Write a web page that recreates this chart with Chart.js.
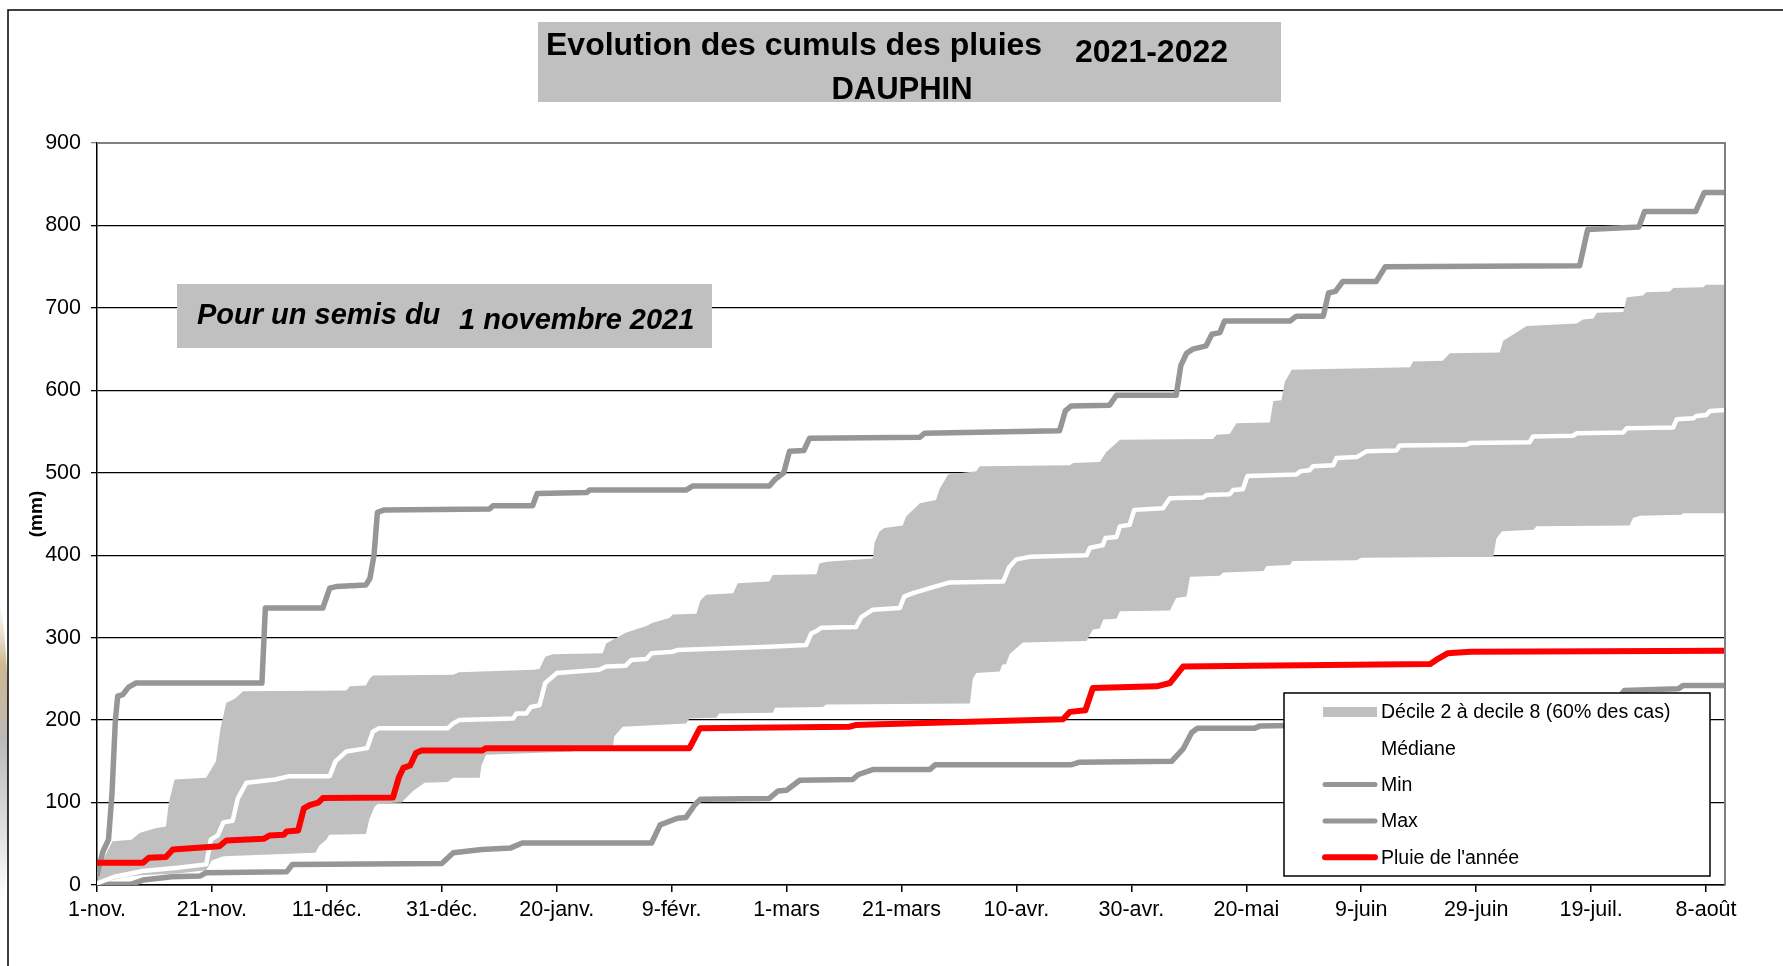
<!DOCTYPE html>
<html>
<head>
<meta charset="utf-8">
<script src="https://cdn.jsdelivr.net/npm/chart.js@4.4.1/dist/chart.umd.min.js"></script>
<style>
  html, body { margin: 0; padding: 0; background: #fff; }
  #wrap { width: 1783px; height: 966px; }
</style>
</head>
<body>
<div id="wrap"><canvas id="pluie" width="1783" height="966"></canvas></div>
<script>
// jours depuis le 1er novembre -> cumul (mm)
const xLabels = ['1-nov.', '21-nov.', '11-déc.', '31-déc.', '20-janv.', '9-févr.', '1-mars', '21-mars',
  '10-avr.', '30-avr.', '20-mai', '9-juin', '29-juin', '19-juil.', '8-août'];

const maxPts = [[0,12],[1,40],[2,55],[2.6,110],[3.2,200],[3.6,229],[4.5,231],[5.5,240],[6.8,245],[28.7,245],
  [29.3,336],[39.3,336],[40.5,360],[41.6,362],[46.8,364],[47.5,372],[48.2,400],[48.8,452],[50,455],[68.3,456],
  [68.9,460],[75.8,460],[76.6,475],[85.2,476],[85.7,479],[102.5,479],[103.7,484],[117,484],[118,492],[119.5,500],
  [120.5,526],[123,527],[124,542],[143.2,543],[144,548],[167.5,551],[168.5,575],[169.5,581],[176.2,582],[177.4,594],
  [187.8,594],[188.6,630],[189.6,645],[190.7,650],[193,654],[194,668],[195.4,670],[196.2,684],[207.6,684],[208.7,690],
  [213.4,690],[214.3,718],[215.5,720],[216.8,732],[222.6,732],[224.2,750],[258,751],[259.4,795],[268.3,798],
  [269.3,817],[278.2,817],[279.7,840],[283.3,840]];

const minPts = [[0,1],[6,1],[8,6],[13,10],[18,11],[19,15],[33,16],[34,25],[60,26],[62,39],[67,43],[72,45],[74,51],
  [96.5,51],[98,73],[101,81],[102.5,82],[104,97],[105,104],[117,105],[118.5,114],[120,115],[122.3,127],[131.5,128],
  [132.5,134],[135,140],[144.9,140],[145.9,146],[169.6,146],[171,149],[187,150],[189,165],[190.5,185],[191.5,190],
  [201.4,190],[202.4,193],[230,196],[262,200],[264.3,222],[265.8,236],[275.2,238],[276,242],[283.3,242]];

const anneePts = [[0,27],[8,27],[9,33],[12,34],[13.2,43],[21.3,47],[22.5,54],[29,56],[30,60],[32.5,61],[33,65],
  [35,66],[36,93],[37,97],[38.5,100],[39.3,105.5],[51.5,106],[52.5,130],[53.3,142],[54.5,145],[55.5,160],[56.5,163],
  [67,163],[67.7,166],[103.1,166],[104.9,190],[131,192],[132,194],[136.2,195],[152,198],[168.1,201],[169.3,210],
  [172,212],[173.3,239],[184.4,241],[186.7,245],[189,265],[201,266],[232,268],[233.5,275],[235,281],[239,283],[283.3,284]];

const medianePts = [[0,2],[3,10],[8,17],[14,21],[19,25],[19.8,55],[21,60],[22,76],[23.6,78],[24.5,105],[26,124],
  [31,128],[33.5,132],[40.5,132],[41.5,150],[43.4,162],[47,166],[48,186],[49,190],[61,190],[62,196],[63,200],
  [72.4,202],[73,208],[74.7,208],[75.5,216],[77,218],[78,245],[80,257],[87.4,261],[88.6,265],[92,266],[93,273],
  [95.6,274],[96.5,281],[100.2,283],[101,285],[117,289],[123.4,291],[124.3,305],[125.2,308],[126,312],[132.1,313],
  [133,325],[135,334],[139.7,336],[140.5,350],[142,354],[144.9,360],[148.4,367],[157.7,368],[158.7,385],[160,395],
  [162.3,398],[172.2,400],[172.8,409],[175,412],[175.5,421],[177.4,422],[178,435],[179.7,437],[180.5,455],[185.5,457],
  [186.7,469],[192.5,470],[193.1,473],[197.1,474],[197.7,479],[199.4,480],[200.2,496],[208.7,498],[209.5,502],
  [211,503],[211.6,508],[215.1,509],[215.7,518],[219.2,519],[220.9,526],[226.1,527],[226.7,533],[238.3,534],
  [238.9,536],[249.3,537],[249.9,544],[256.9,545],[257.5,548],[265.6,549],[266.2,554],[274.3,555],[274.9,565],
  [277.8,566],[278.3,569],[280,570],[280.7,575],[283.3,576]];

const decile8Pts = [[0,2],[1,30],[2.7,53],[6,55],[7.4,63],[10.3,69],[12,71],[12.5,100],[13.5,128],[19,130],[20.7,150],
  [21.5,190],[22.5,221],[24,226],[24.8,231],[25.4,235],[43.4,236],[44,241],[46.8,242],[47.4,250],[48,254],[62,255],
  [63,258],[76,261],[77,262],[78,277],[79.3,280],[88,281],[88.6,293],[91,302],[92,306],[95.6,314],[96.7,318],
  [99.6,324],[100.2,328],[104.3,329],[105,345],[106,352],[110.7,354],[111.5,366],[117,368],[117.6,376],[125.2,377],
  [125.7,390],[127,392],[135,396],[135.3,415],[136.2,429],[137,433],[140.2,436],[140.8,447],[143.2,463],[146,467],
  [146.6,480],[148.1,498],[153,502],[153.6,508],[169.3,509],[169.9,512],[174.5,513],[175.6,525],[177.4,536],[178,540],
  [194.2,541],[194.8,546],[197.1,547],[198.3,560],[204.1,561],[204.7,587],[206.1,588],[206.7,610],[207.9,625],
  [228.5,628],[229,635],[234.2,636],[235.4,645],[244.1,646],[244.7,660],[248.8,678],[257.5,681],[258.6,686],
  [260.4,687],[261,694],[265.6,695],[266.2,713],[269,715],[269.6,719],[273.7,720],[274.3,724],[279.5,725],[280,728],
  [283.3,728]];

const decile2Pts = [[0,0],[2,5],[5,10],[8,12],[14,14],[19,18],[20,30],[22,35],[30,37],[38,39],[38.7,48],[39.9,55],
  [40.4,61],[46.8,62],[47.4,80],[48.3,95],[49,99],[53,100],[55,114],[57,124],[61,125],[62,130],[66.6,130],[66.9,145],
  [67.7,158],[82.8,162],[83,168],[89.8,169],[90,180],[91.5,192],[102.5,196],[103.1,202],[107.8,203],[108.3,208],
  [117.6,209],[118,215],[126.3,216],[126.9,219],[151.9,220],[152.4,250],[153,257],[157.1,259],[157.5,267],[158.2,268],
  [158.8,280],[161.1,294],[172.2,296],[173.3,310],[174.5,311],[175.1,322],[177.4,323],[178,332],[186.7,333],
  [187.8,348],[189.6,350],[190.2,374],[195.4,375],[196,379],[203,381],[203.5,387],[207.6,388],[208,393],[219.2,394],
  [220,397],[243,398],[243.5,420],[244.5,429],[250,431],[250.5,435],[266.7,436],[267.3,445],[268.5,448],[275.7,449],
  [276,451],[283.3,451]];

const legendItems = ['Décile 2 à decile 8 (60% des cas)', 'Médiane', 'Min', 'Max', "Pluie de l'année"];

const FONT = '"Liberation Sans", Arial, sans-serif';
const toXY = pts => pts.map(p => ({ x: p[0], y: p[1] }));

// cadre, titres et légende dessinés à la main
const decorPlugin = {
  id: 'decor',
  beforeDraw(chart) {
    const ctx = chart.ctx;
    ctx.save();
    // petite vague beige sur le bord gauche
    const g = ctx.createLinearGradient(0, 600, 0, 930);
    g.addColorStop(0, 'rgba(225,210,180,0)');
    g.addColorStop(0.2, '#cdb78f');
    g.addColorStop(0.42, '#bcb9b8');
    g.addColorStop(0.75, '#e6e6ea');
    g.addColorStop(1, 'rgba(255,255,255,0)');
    ctx.fillStyle = g;
    ctx.beginPath();
    ctx.moveTo(0, 600);
    ctx.quadraticCurveTo(8, 650, 8, 720);
    ctx.lineTo(8, 840);
    ctx.quadraticCurveTo(5, 900, 0, 930);
    ctx.closePath();
    ctx.fill();

    ctx.strokeStyle = '#000';
    ctx.lineWidth = 1.5;
    ctx.beginPath();
    ctx.moveTo(8, 966);
    ctx.lineTo(8, 10);
    ctx.lineTo(1783, 10);
    ctx.stroke();
    ctx.restore();
  },
  afterDatasetsDraw(chart) {
    const ctx = chart.ctx;
    const ca = chart.chartArea;
    ctx.save();

    // bord haut / droit gris
    ctx.strokeStyle = '#808080';
    ctx.lineWidth = 2;
    ctx.beginPath();
    ctx.moveTo(ca.left, ca.top);
    ctx.lineTo(ca.right, ca.top);
    ctx.lineTo(ca.right, ca.bottom);
    ctx.stroke();

    // titre
    ctx.fillStyle = '#c0c0c0';
    ctx.fillRect(538, 22, 743, 80);
    ctx.fillStyle = '#000';
    ctx.textBaseline = 'alphabetic';
    ctx.textAlign = 'left';
    ctx.font = 'bold 32px ' + FONT;
    ctx.fillText('Evolution des cumuls des pluies', 546, 55);
    ctx.fillText('2021-2022', 1075, 62);
    ctx.textAlign = 'center';
    ctx.font = 'bold 31px ' + FONT;
    ctx.fillText('DAUPHIN', 902, 99);

    // semis
    ctx.fillStyle = '#c0c0c0';
    ctx.fillRect(177, 284, 535, 64);
    ctx.fillStyle = '#000';
    ctx.textAlign = 'left';
    ctx.font = 'italic bold 29px ' + FONT;
    ctx.fillText('Pour un semis du', 197, 324);
    ctx.fillText('1 novembre 2021', 459, 329);

    // unité
    ctx.save();
    ctx.translate(37, (ca.top + ca.bottom) / 2);
    ctx.rotate(-Math.PI / 2);
    ctx.textAlign = 'center';
    ctx.textBaseline = 'middle';
    ctx.font = 'bold 19px ' + FONT;
    ctx.fillText('(mm)', 0, 0);
    ctx.restore();

    // légende
    const lx = ca.right - 441, ly = ca.bottom - 192, lw = 426, lh = 183;
    ctx.fillStyle = '#fff';
    ctx.fillRect(lx, ly, lw, lh);
    ctx.strokeStyle = '#000';
    ctx.lineWidth = 1.5;
    ctx.strokeRect(lx, ly, lw, lh);
    const sx = lx + 39, tx = lx + 97;
    ctx.font = '19.5px ' + FONT;
    ctx.textBaseline = 'middle';
    ctx.lineCap = 'round';
    legendItems.forEach((label, i) => {
      const ry = ly + 19 + i * 36.3;
      if (i === 0) {
        ctx.fillStyle = '#c0c0c0';
        ctx.fillRect(sx, ry - 5, 54, 10);
      } else if (i === 2 || i === 3) {
        ctx.strokeStyle = '#969696';
        ctx.lineWidth = 5;
        ctx.beginPath(); ctx.moveTo(sx + 2, ry); ctx.lineTo(sx + 52, ry); ctx.stroke();
      } else if (i === 4) {
        ctx.strokeStyle = '#ff0000';
        ctx.lineWidth = 6;
        ctx.beginPath(); ctx.moveTo(sx + 2, ry); ctx.lineTo(sx + 52, ry); ctx.stroke();
      }
      ctx.fillStyle = '#000';
      ctx.fillText(label, tx, ry + 1);
    });
    ctx.restore();
  }
};

const lineBase = { pointRadius: 0, fill: false, tension: 0, borderJoinStyle: 'round', borderCapStyle: 'round' };

new Chart(document.getElementById('pluie'), {
  type: 'line',
  data: {
    datasets: [
      { ...lineBase, label: "Pluie de l'année", data: toXY(anneePts), borderColor: '#ff0000', borderWidth: 6, order: 0 },
      { ...lineBase, label: 'Médiane', data: toXY(medianePts), borderColor: '#ffffff', borderWidth: 4.5, order: 1 },
      { ...lineBase, label: 'Max', data: toXY(maxPts), borderColor: '#969696', borderWidth: 5.5, order: 2 },
      { ...lineBase, label: 'Min', data: toXY(minPts), borderColor: '#969696', borderWidth: 5.5, order: 3 },
      { ...lineBase, label: 'Décile 8', data: toXY(decile8Pts), borderWidth: 0, borderColor: 'rgba(0,0,0,0)',
        backgroundColor: '#c0c0c0', fill: 5, order: 4 },
      { ...lineBase, label: 'Décile 2', data: toXY(decile2Pts), borderWidth: 0, borderColor: 'rgba(0,0,0,0)', order: 5 }
    ]
  },
  options: {
    responsive: false,
    animation: false,
    events: [],
    layout: { padding: { left: 0, top: 143, right: 58, bottom: 0 } },
    plugins: { legend: { display: false }, tooltip: { enabled: false }, title: { display: false } },
    scales: {
      x: {
        type: 'linear',
        min: 0,
        max: 283.3,
        afterBuildTicks: scale => { scale.ticks = xLabels.map((_, i) => ({ value: i * 20 })); },
        afterFit: scale => { scale.height = 81; },
        ticks: {
          autoSkip: false,
          maxRotation: 0,
          padding: 5,
          color: '#000',
          font: { family: FONT, size: 21.5 },
          callback: v => xLabels[Math.round(v / 20)]
        },
        grid: { display: true, drawOnChartArea: false, drawTicks: true, tickLength: 7, color: '#000', lineWidth: 1.5 },
        border: { color: '#000', width: 1.5 }
      },
      y: {
        min: 0,
        max: 900,
        afterFit: scale => { scale.width = 97; },
        ticks: {
          stepSize: 100,
          padding: 10,
          color: '#000',
          font: { family: FONT, size: 21.5 }
        },
        grid: {
          color: c => (c.tick && c.tick.value === 900 ? '#808080' : '#000'),
          lineWidth: 1.3,
          tickLength: 6
        },
        border: { color: '#000', width: 1.5 }
      }
    }
  },
  plugins: [decorPlugin]
});
</script>
</body>
</html>
